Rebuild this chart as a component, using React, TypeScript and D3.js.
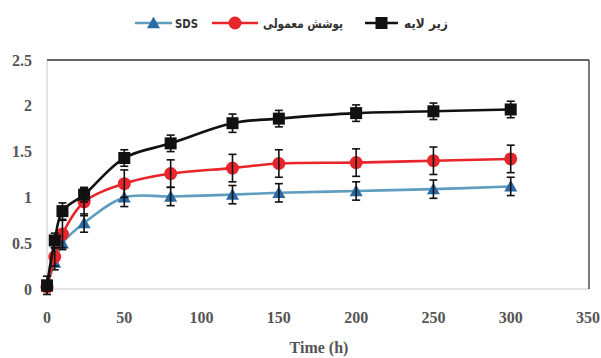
import React from "react";
import * as d3 from "d3";

const times = [0, 5, 10, 24, 50, 80, 120, 150, 200, 250, 300];
const sdsValues = [0.03, 0.29, 0.5, 0.72, 1.0, 1.01, 1.03, 1.05, 1.07, 1.09, 1.12];
const sdsErrors = [0.05, 0.08, 0.07, 0.1, 0.1, 0.1, 0.1, 0.1, 0.1, 0.1, 0.1];
const normalValues = [0.02, 0.35, 0.6, 0.95, 1.15, 1.26, 1.32, 1.37, 1.38, 1.4, 1.42];
const normalErrors = [0.04, 0.1, 0.15, 0.15, 0.15, 0.15, 0.15, 0.15, 0.15, 0.15, 0.15];
const subValues = [0.04, 0.53, 0.85, 1.03, 1.43, 1.59, 1.81, 1.86, 1.92, 1.94, 1.96];
const subErrors = [0.1, 0.08, 0.09, 0.08, 0.09, 0.09, 0.1, 0.09, 0.09, 0.09, 0.09];

const xTicks = [0, 50, 100, 150, 200, 250, 300, 350];
const yTicks = [0, 0.5, 1, 1.5, 2, 2.5];
const yTickLabels = ["0", "0.5", "1", "1.5", "2", "2.5"];

const seriesNames = ["SDS", "پوشش معمولی", "زیر لایه"];

const W = 601;
const H = 358;
const left = 47;
const right = 588;
const top = 60;
const bottom = 289;

export default function App() {
  const x = d3.scaleLinear().domain([0, 350]).range([left, right]);
  const y = d3.scaleLinear().domain([0, 2.5]).range([bottom, top]);

  const series = [
    { name: seriesNames[0], vals: sdsValues, errs: sdsErrors, line: "#5f9dbf", marker: "#2c6aa6", shape: "tri" },
    { name: seriesNames[1], vals: normalValues, errs: normalErrors, line: "#e8252b", marker: "#e8252b", shape: "circle" },
    { name: seriesNames[2], vals: subValues, errs: subErrors, line: "#111111", marker: "#111111", shape: "square" },
  ];

  const lineGen = d3
    .line<[number, number]>()
    .x((d) => x(d[0]))
    .y((d) => y(d[1]))
    .curve(d3.curveCatmullRom.alpha(0.5));

  const marker = (shape: string, cx: number, cy: number, fill: string, key: string) => {
    if (shape === "square") {
      return <rect key={key} x={cx - 6} y={cy - 6} width={12} height={12} fill={fill} />;
    }
    if (shape === "circle") {
      return <circle key={key} cx={cx} cy={cy} r={6.5} fill={fill} />;
    }
    const s = 6.5;
    return (
      <path
        key={key}
        d={`M${cx},${cy - s} L${cx + s},${cy + s * 0.8} L${cx - s},${cy + s * 0.8} Z`}
        fill={fill}
      />
    );
  };

  const serif = "'Liberation Serif', 'Times New Roman', serif";
  const sans = "'DejaVu Sans', 'Noto Sans', sans-serif";

  // legend layout
  const legendY = 23;
  const legendItems = [
    { s: series[0], lx1: 135, lx2: 172, tx: 175, anchor: "start", len: 23 },
    { s: series[1], lx1: 212, lx2: 258, tx: 343, anchor: "end", len: 80 },
    { s: series[2], lx1: 365, lx2: 398, tx: 448, anchor: "end", len: 44 },
  ];

  return (
    <svg
      width={W}
      height={H}
      style={{ position: "absolute", left: 0, top: 0, background: "#fff" }}
    >
      <rect x={0} y={0} width={W} height={H} fill="#fff" />
      {/* frame */}
      <line x1={left} y1={top} x2={left} y2={bottom} stroke="#c8c8c8" strokeWidth={1} />
      <line x1={left} y1={bottom} x2={right + 1} y2={bottom} stroke="#c8c8c8" strokeWidth={1.2} />
      <line x1={left} y1={top} x2={right + 1} y2={top} stroke="#333" strokeWidth={1.3} />
      <line x1={right + 1} y1={top} x2={right + 1} y2={bottom} stroke="#333" strokeWidth={1.3} />

      {/* y tick labels */}
      {yTicks.map((t, i) => (
        <text
          key={"y" + i}
          x={32}
          y={y(t)}
          dy="0.35em"
          textAnchor="end"
          fontFamily={serif}
          fontWeight="bold"
          fontSize={16}
          fill="#555"
        >
          {yTickLabels[i]}
        </text>
      ))}
      {/* x tick labels */}
      {xTicks.map((t) => (
        <text
          key={"x" + t}
          x={x(t)}
          y={322.5}
          textAnchor="middle"
          fontFamily={serif}
          fontWeight="bold"
          fontSize={16}
          fill="#555"
        >
          {t}
        </text>
      ))}
      <text
        x={319}
        y={353}
        textAnchor="middle"
        fontFamily={serif}
        fontWeight="bold"
        fontSize={16}
        fill="#555"
      >
        Time (h)
      </text>

      {/* series */}
      {series.map((s, si) => {
        const pts: [number, number][] = times.map((t, i) => [t, s.vals[i]]);
        return (
          <g key={"s" + si}>
            <path d={lineGen(pts) || ""} fill="none" stroke={s.line} strokeWidth={2.6} />
            {pts.map((p, i) => marker(s.shape, x(p[0]), y(p[1]), s.marker, "m" + i))}
            {pts.map((p, i) => {
              const cx = x(p[0]);
              const y1 = y(p[1] - s.errs[i]);
              const y2 = y(p[1] + s.errs[i]);
              return (
                <g key={"e" + i} stroke="#111" strokeWidth={1.6}>
                  <line x1={cx} x2={cx} y1={y1} y2={y2} />
                  <line x1={cx - 4} x2={cx + 4} y1={y1} y2={y1} />
                  <line x1={cx - 4} x2={cx + 4} y1={y2} y2={y2} />
                </g>
              );
            })}
          </g>
        );
      })}

      {/* legend */}
      {legendItems.map((it, i) => (
        <g key={"l" + i}>
          <line x1={it.lx1} x2={it.lx2} y1={legendY} y2={legendY} stroke={it.s.line} strokeWidth={2.6} />
          {marker(it.s.shape, (it.lx1 + it.lx2) / 2, legendY, it.s.marker, "lm" + i)}
          <text
            x={it.tx}
            y={legendY}
            dy="0.35em"
            textAnchor={it.anchor as any}
            fontFamily={sans}
            fontWeight="bold"
            fontSize={13}
            fill="#333"
            textLength={it.len}
            lengthAdjust="spacingAndGlyphs"
          >
            {it.s.name}
          </text>
        </g>
      ))}
    </svg>
  );
}
